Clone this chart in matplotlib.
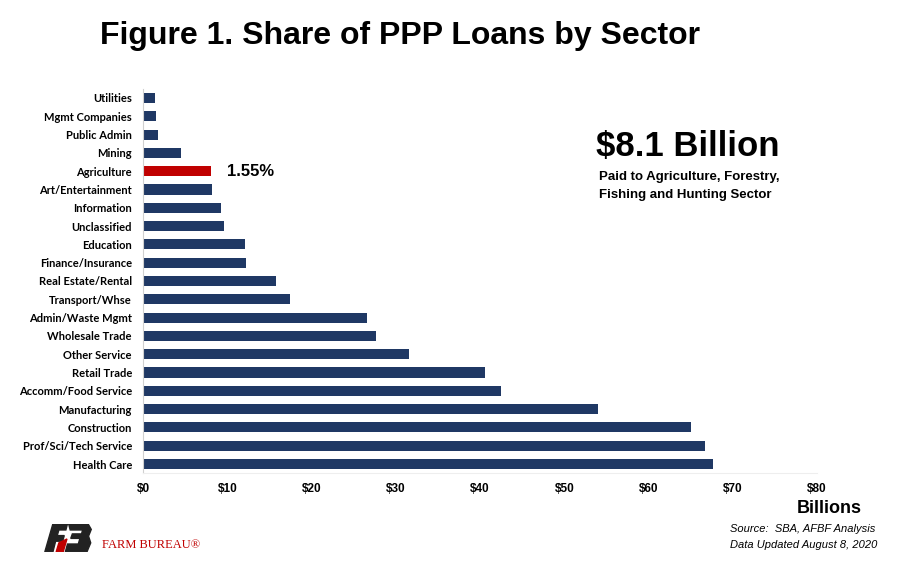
import numpy as np
import matplotlib.pyplot as plt
from matplotlib.patches import Polygon

sectors = ['Utilities', 'Mgmt Companies', 'Public Admin', 'Mining', 'Agriculture',
           'Art/Entertainment', 'Information', 'Unclassified', 'Education',
           'Finance/Insurance', 'Real Estate/Rental', 'Transport/Whse',
           'Admin/Waste Mgmt', 'Wholesale Trade', 'Other Service', 'Retail Trade',
           'Accomm/Food Service', 'Manufacturing', 'Construction',
           'Prof/Sci/Tech Service', 'Health Care']
loans = [1.47, 1.59, 1.78, 4.55, 8.11, 8.23, 9.30, 9.61, 12.10, 12.18, 15.74,
         17.44, 26.57, 27.64, 31.60, 40.53, 42.43, 53.94, 64.97, 66.71, 67.62]
xticks = [0, 10, 20, 30, 40, 50, 60, 70, 80]
xtick_labels = ['$0', '$10', '$20', '$30', '$40', '$50', '$60', '$70', '$80']
highlight = 'Agriculture'
ag_share = '1.55%'

navy = '#1F3864'
red = '#C00000'
narrow = ['Liberation Sans Narrow', 'Liberation Sans', 'DejaVu Sans']

fig = plt.figure(figsize=(9, 5.62), dpi=100)
ax = fig.add_axes([0.159, 0.158, 0.749, 0.684])

y = np.arange(len(sectors))
colors = [red if s == highlight else navy for s in sectors]
ax.barh(y, loans, height=0.55, color=colors)
ax.set_ylim(len(sectors) - 0.5, -0.5)
ax.set_xlim(0, 80)

ax.set_yticks(y, labels=sectors)
ax.set_xticks(xticks, labels=xtick_labels)
for lab in ax.get_yticklabels():
    lab.set_fontfamily(['Lato', 'DejaVu Sans'])
    lab.set_fontweight('bold')
    lab.set_fontsize(8)
for lab in ax.get_xticklabels():
    lab.set_fontfamily(narrow)
    lab.set_fontweight('bold')
    lab.set_fontsize(8.5)
ax.tick_params(axis='y', length=0, pad=8)
ax.tick_params(axis='x', length=0, pad=7)

for side in ['top', 'right']:
    ax.spines[side].set_visible(False)
ax.spines['left'].set_color('#D0D0D0')
ax.spines['bottom'].set_color('#EEEEEE')

ag_i = sectors.index(highlight)
ax.text(loans[ag_i] + 1.8, ag_i, ag_share, va='center', ha='left',
        fontsize=12, fontweight='bold', fontfamily=['Liberation Sans', 'DejaVu Sans'])

fig.text(0.445, 0.936, 'Figure 1. Share of PPP Loans by Sector', ha='center', va='center',
         fontsize=23, fontweight='bold', fontfamily=narrow)
fig.text(0.764, 0.740, '$8.1 Billion', ha='center', va='center',
         fontsize=25, fontweight='bold', fontfamily=['Liberation Sans', 'DejaVu Sans'])
fig.text(0.666, 0.669, 'Paid to Agriculture, Forestry,\nFishing and Hunting Sector',
         ha='left', va='center', fontsize=9.5, fontweight='bold', linespacing=1.6,
         fontfamily=narrow)
fig.text(0.921, 0.096, 'Billions', ha='center', va='center', fontsize=13,
         fontweight='bold', fontfamily=narrow)
fig.text(0.811, 0.044, 'Source:  SBA, AFBF Analysis\nData Updated August 8, 2020',
         ha='left', va='center', fontsize=8, style='italic', linespacing=1.8,
         fontfamily=narrow)

# Farm Bureau logo mark
logo = fig.add_axes([0.045, 0.018, 0.06, 0.05])
logo.set_xlim(0, 10)
logo.set_ylim(0, 5)
logo.axis('off')
logo.add_patch(Polygon([[0.8, 0], [2.3, 5], [5.0, 5], [4.7, 3.9], [3.4, 3.9], [3.1, 2.9],
                        [4.4, 2.9], [4.1, 1.9], [2.8, 1.9], [2.3, 0]], color='#222222'))
logo.add_patch(Polygon([[2.9, 0], [3.4, 1.6], [4.9, 2.3], [4.2, 0]], color=red))
logo.add_patch(Polygon([[5.2, 5], [8.8, 5], [9.4, 4.0], [8.9, 2.8], [9.3, 1.6], [8.6, 0],
                        [4.6, 0], [5.0, 1.4], [7.0, 1.4], [7.3, 2.4], [5.6, 2.4],
                        [5.9, 3.2], [7.6, 3.2], [7.8, 3.9], [5.5, 3.9]], color='#222222'))
fig.text(0.113, 0.031, 'FARM BUREAU\u00ae', ha='left', va='center', fontsize=9,
         color=red, fontfamily=['Liberation Serif', 'DejaVu Serif'])

fig.savefig('out.png', dpi=100)
